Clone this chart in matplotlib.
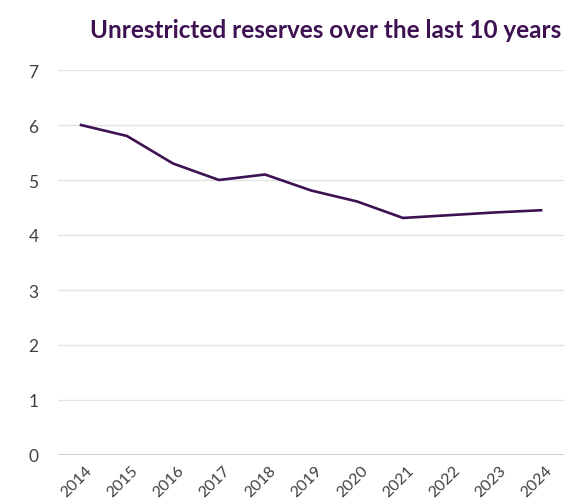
import matplotlib
matplotlib.use("Agg")
import matplotlib.pyplot as plt
from matplotlib.transforms import ScaledTranslation

years = ["2014", "2015", "2016", "2017", "2018", "2019", "2020",
         "2021", "2022", "2023", "2024"]
reserves = [6.0, 5.8, 5.3, 5.0, 5.1, 4.81, 4.61, 4.31, 4.36, 4.41, 4.45]
y_ticks = [0, 1, 2, 3, 4, 5, 6, 7]
title = "Unrestricted reserves over the last 10 years"

purple = "#3d1152"
plt.rcParams["font.family"] = ["Lato", "DejaVu Sans"]

fig = plt.figure(figsize=(5.72, 5.02), dpi=100)
ax = fig.add_axes([58 / 572, 1 - 456 / 502, (564 - 58) / 572, (456 - 71) / 502])

x = list(range(len(years)))
ax.plot(x, reserves, color=purple, lw=1.9, solid_joinstyle="miter", zorder=3)

ax.set_xlim(-0.5, len(years) - 0.5)
ax.set_ylim(0, 7)
ax.set_yticks(y_ticks)
ax.set_yticklabels([str(v) for v in y_ticks])
ax.set_xticks(x)
ax.set_xticklabels(years)

for s in ax.spines.values():
    s.set_visible(False)
ax.grid(axis="y", color="#e3e3e3", lw=1)
ax.set_axisbelow(True)
ax.axhline(0, color="#c6c6c6", lw=1.2, zorder=2)

ax.tick_params(axis="y", length=0, pad=14, labelsize=12.5, labelcolor="#404040")
ax.tick_params(axis="x", length=0, pad=9, labelsize=11.5, labelcolor="#404040")
offset = ScaledTranslation(9 / 100, 0, fig.dpi_scale_trans)
for lbl in ax.get_xticklabels():
    lbl.set_rotation(45)
    lbl.set_ha("right")
    lbl.set_va("center")
    lbl.set_rotation_mode("anchor")
    lbl.set_transform(lbl.get_transform() + offset)

fig.text(326 / 572, 1 - 38 / 502, title, ha="center", va="baseline",
         fontsize=17.5, fontweight="bold", color=purple)

fig.savefig("out.png", dpi=100, facecolor="white")
